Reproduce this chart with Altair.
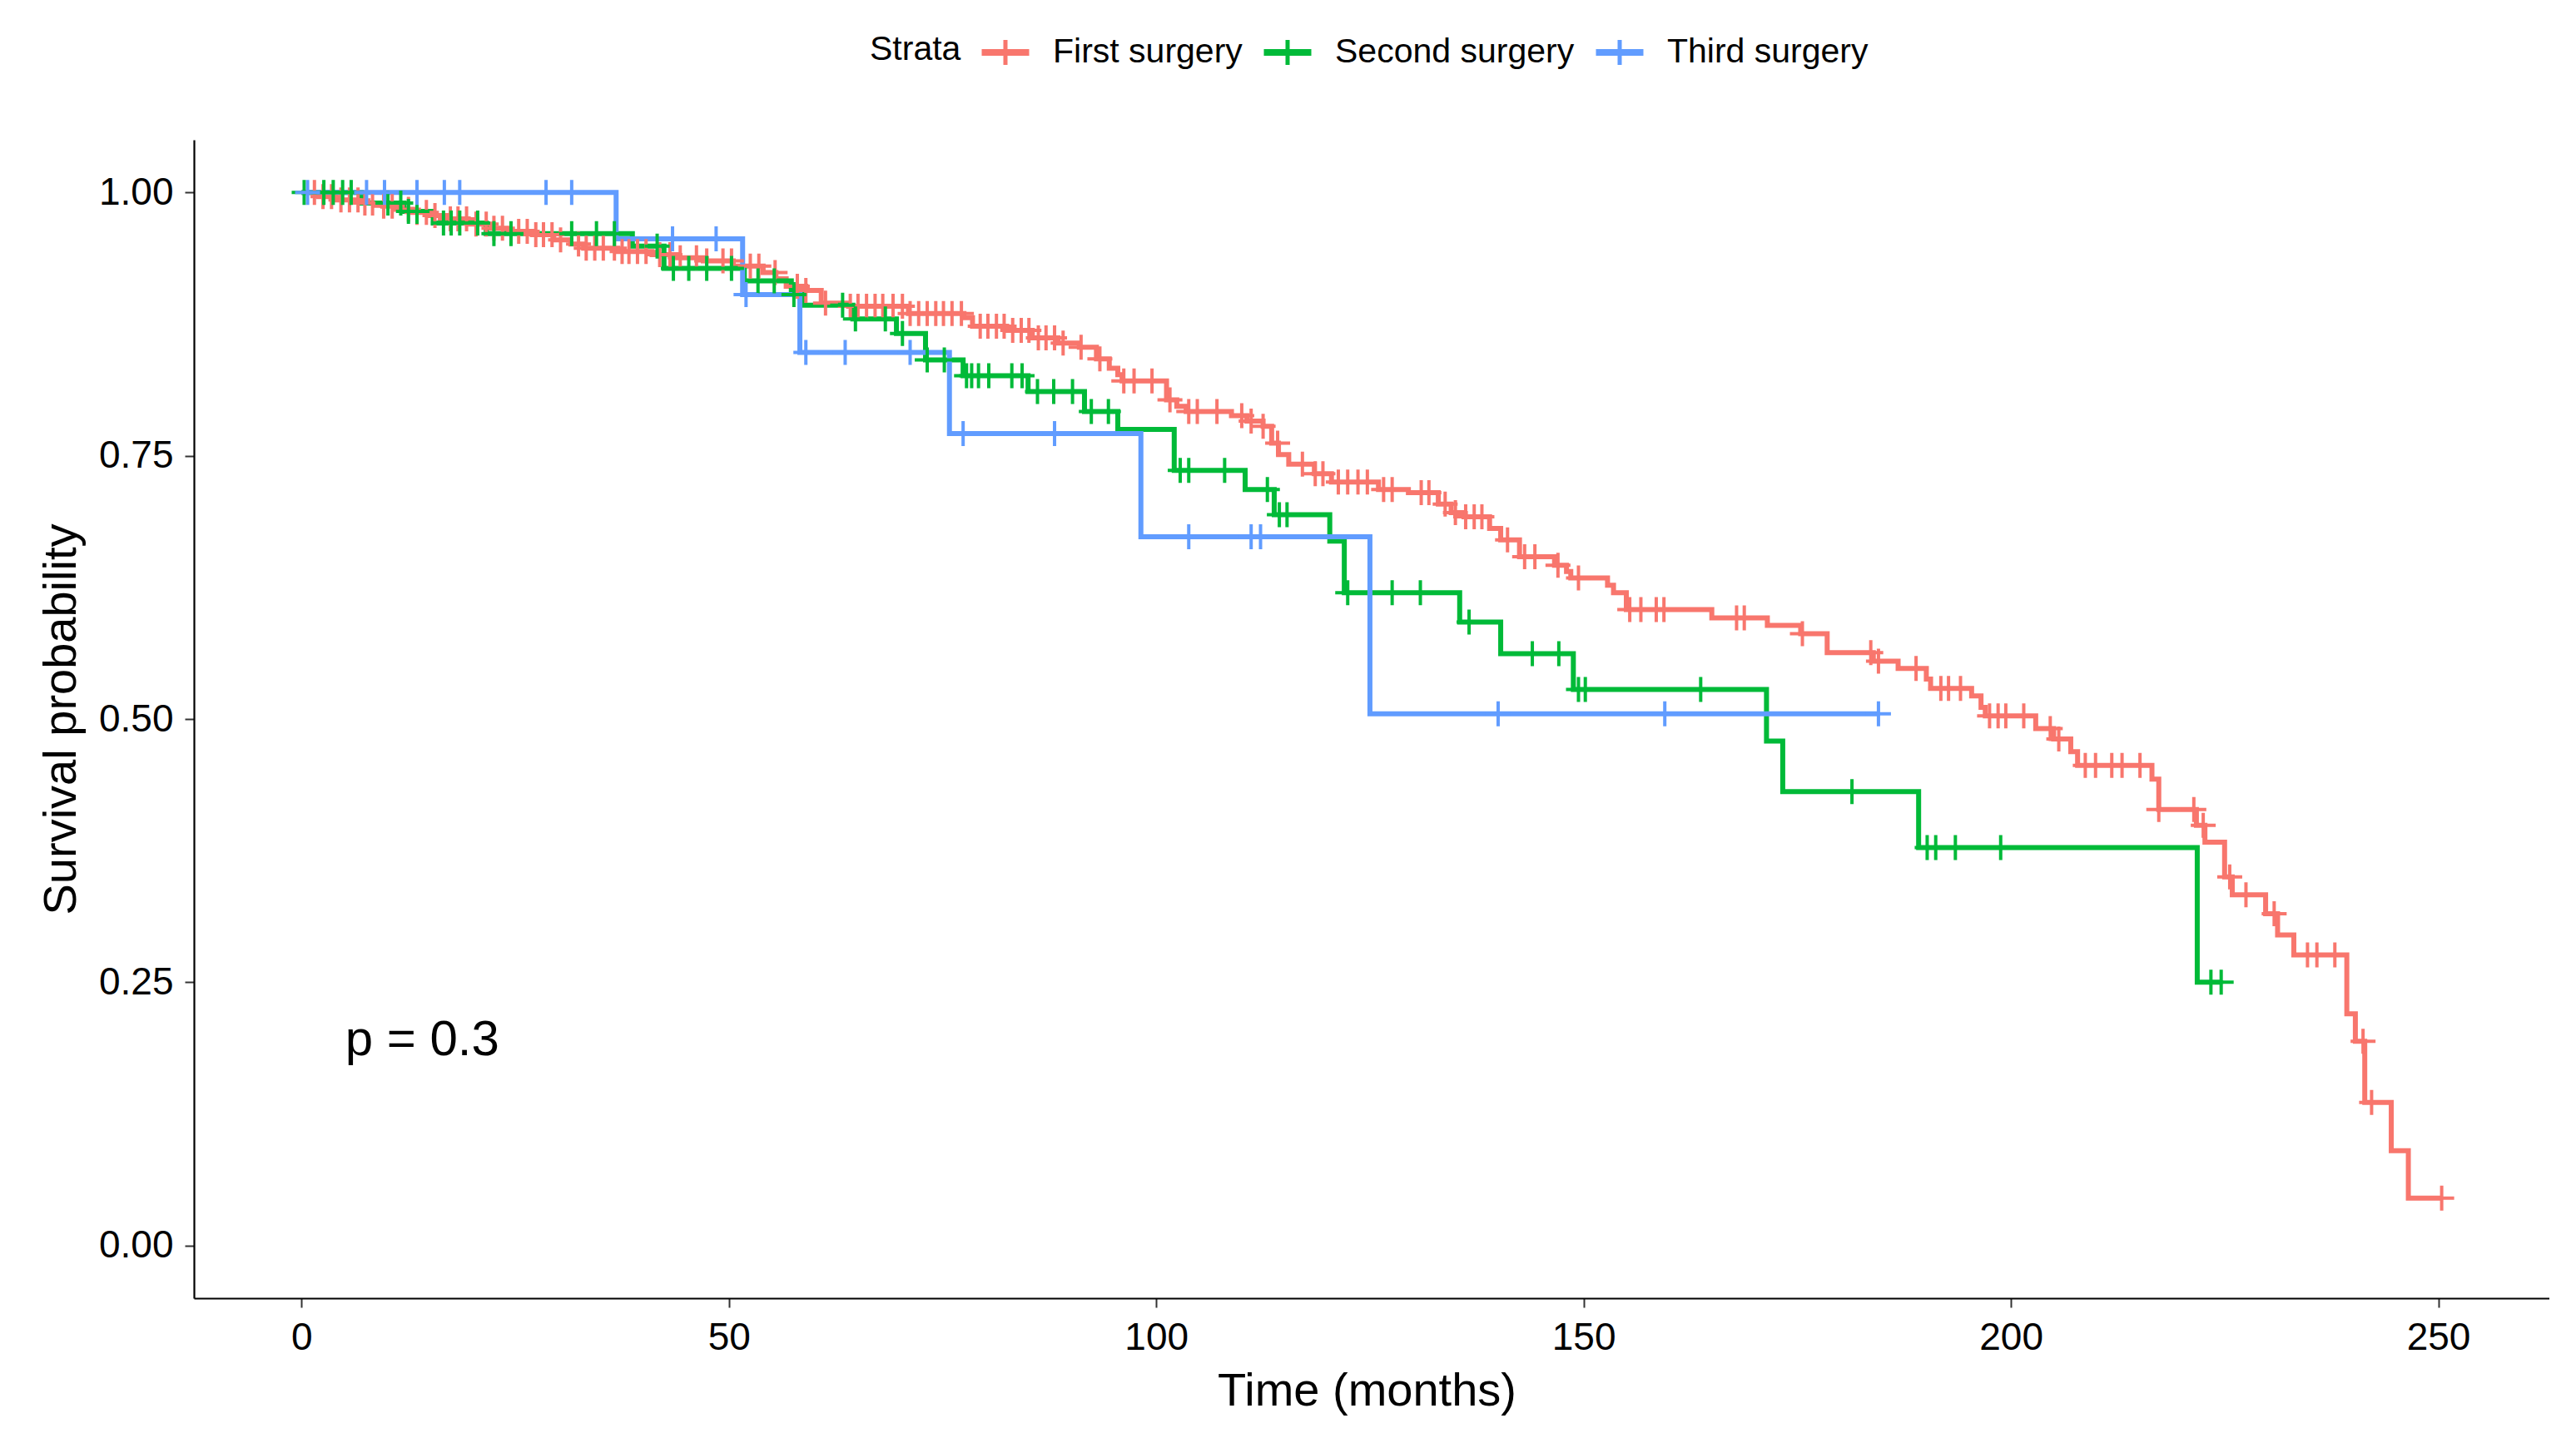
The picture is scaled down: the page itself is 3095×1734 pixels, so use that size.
import altair as alt
import numpy as np
import pandas as pd

FONT = "Liberation Sans, Arial, sans-serif"

strata = ["First surgery", "Second surgery", "Third surgery"]
colors = ["#F8766D", "#00BA38", "#619CFF"]

# ---- First surgery: step times / survival levels ----
red_t = [0, 2.0, 4.0, 7.0, 9.5, 11.0, 13.0, 15.0, 17.0, 19.5,
         22.0, 24.0, 27.0, 29.5, 31.5, 33.0, 37.0, 41.0, 44.0, 47.0,
         50.5, 54.0, 55.5, 56.7, 59.0, 60.8, 64.0, 71.0, 77.5, 78.5,
         82.5, 85.5, 88.5, 91.0, 93.0, 94.5, 95.5, 96.0, 101.2, 102.4,
         103.5, 108.8, 110.6, 112.5, 113.5, 114.3, 115.5, 118.5, 120.5, 126.0,
         129.5, 133.0, 134.5, 136.0, 139.0, 140.3, 142.5, 146.6, 148.0, 148.5,
         152.8, 153.5, 155.0, 165.0, 171.5, 175.4, 178.5, 183.9, 186.8, 190.1,
         190.6, 195.4, 196.5, 197.0, 202.9, 205.0, 207.0, 207.8, 216.5, 217.3,
         221.7, 222.7, 225.0, 225.9, 229.8, 231.2, 233.1, 239.3, 240.3, 241.4,
         244.5, 246.5]
red_s = [1.000, 0.996, 0.993, 0.990, 0.987, 0.984, 0.981, 0.978, 0.975, 0.970,
         0.966, 0.963, 0.960, 0.955, 0.951, 0.947, 0.944, 0.941, 0.938, 0.935,
         0.930, 0.924, 0.918, 0.911, 0.907, 0.895, 0.892, 0.885, 0.881, 0.873,
         0.869, 0.862, 0.857, 0.853, 0.842, 0.833, 0.827, 0.821, 0.803, 0.797,
         0.792, 0.788, 0.783, 0.778, 0.762, 0.751, 0.742, 0.733, 0.725, 0.718,
         0.715, 0.704, 0.696, 0.692, 0.681, 0.670, 0.654, 0.646, 0.640, 0.634,
         0.627, 0.620, 0.604, 0.596, 0.589, 0.581, 0.563, 0.555, 0.548, 0.538,
         0.529, 0.522, 0.511, 0.503, 0.491, 0.481, 0.469, 0.456, 0.443, 0.414,
         0.399, 0.383, 0.350, 0.333, 0.315, 0.295, 0.276, 0.220, 0.194, 0.136,
         0.090, 0.045]
red_end = 250.4
red_cens = [1.5, 2.5, 3.5, 4.6, 5.6, 6.6, 7.4, 8.3, 9.6, 10.6, 12.5, 13.5, 14.6, 15.6,
            17.4, 18.3, 19.3, 20.4, 21.6, 22.5, 23.5, 25.4, 26.4, 27.4, 28.3, 29.3,
            30.3, 32.4, 33.3, 34.3, 35.3, 36.6, 37.5, 38.3, 39.3, 40.3, 41.9, 43.1,
            44.3, 46.2, 47.4, 49.3, 50.3, 52.5, 53.5, 55.4, 58.0, 59.0, 61.3, 64.2,
            65.1, 66.1, 67.1, 68.0, 69.2, 70.3, 71.2, 72.2, 73.2, 74.2, 75.1, 76.1,
            77.2, 79.4, 80.3, 81.3, 82.2, 83.2, 84.2, 85.1, 86.2, 87.1, 88.1, 89.1,
            91.2, 93.4, 96.2, 97.4, 99.5, 101.6, 103.8, 104.8, 107.1, 110.0, 111.1,
            112.5, 114.2, 117.1, 118.6, 119.5, 121.3, 122.4, 123.6, 124.7, 126.6,
            127.6, 131.0, 131.9, 133.8, 135.0, 136.2, 137.2, 138.1, 141.1, 143.1,
            144.3, 147.0, 149.4, 155.4, 156.7, 158.5, 159.4, 167.9, 168.8, 175.6,
            183.6, 184.5, 188.9, 191.8, 192.7, 194.1, 197.5, 198.5, 199.4, 201.5,
            204.6, 205.6, 208.7, 209.9, 211.8, 213.0, 215.1, 217.3, 221.4, 222.5,
            225.6, 227.5, 230.8, 234.7, 235.8, 237.9, 241.2, 242.2, 250.4]

# ---- Second surgery ----
green_t = [0, 7.0, 12.0, 15.4, 21.6, 38.7, 42.4, 51.8, 57.3, 58.7,
           64.5, 69.6, 73.0, 77.4, 85.0, 91.6, 95.5, 102.1, 110.4, 113.8,
           120.3, 122.0, 135.5, 140.3, 148.8, 171.4, 173.3, 189.2, 221.8]
green_s = [1.000, 0.990, 0.982, 0.971, 0.961, 0.949, 0.928, 0.916, 0.903, 0.893,
           0.880, 0.866, 0.841, 0.826, 0.811, 0.792, 0.775, 0.736, 0.718, 0.694,
           0.669, 0.620, 0.592, 0.562, 0.528, 0.479, 0.431, 0.378, 0.250]
green_end = 224.6
green_cens = [0.3, 2.6, 3.7, 4.8, 5.8, 10.1, 11.6, 12.5, 13.5, 16.6, 17.5, 18.5, 20.6,
              22.5, 24.5, 31.6, 34.5, 36.6, 41.6, 43.5, 45.3, 47.4, 50.3, 53.4, 55.3,
              57.6, 63.3, 64.8, 68.3, 70.3, 73.2, 75.2, 77.8, 78.4, 79.2, 80.4, 83.1,
              84.3, 86.1, 88.0, 90.2, 92.4, 94.4, 102.8, 103.8, 108.0, 113.0, 114.4,
              115.3, 122.4, 127.6, 130.9, 136.6, 144.0, 147.1, 149.4, 150.2, 163.7,
              181.4, 190.2, 191.2, 193.5, 198.8, 223.4, 224.6]

# ---- Third surgery ----
blue_t = [0, 36.8, 51.6, 58.3, 75.8, 98.2, 125.0]
blue_s = [1.000, 0.956, 0.903, 0.848, 0.771, 0.673, 0.505]
blue_end = 184.5
blue_cens = [0.7, 7.6, 9.7, 13.5, 16.7, 18.5, 28.6, 31.6, 43.4, 48.5, 52.0, 59.0,
             63.6, 71.2, 77.4, 88.1, 103.8, 111.1, 112.2, 140.0, 159.5, 184.5]

p_label = "p = 0.3"
p_time, p_surv = 5.1, 0.181

x_ticks = [0, 50, 100, 150, 200, 250]
y_ticks = [0.0, 0.25, 0.5, 0.75, 1.0]

series = [
    (strata[0], red_t, red_s, red_end, red_cens),
    (strata[1], green_t, green_s, green_end, green_cens),
    (strata[2], blue_t, blue_s, blue_end, blue_cens),
]

line_rows, cens_rows = [], []
for name, ts, ss, end, cts in series:
    assert len(ts) == len(ss)
    for i, (t, s) in enumerate(zip(ts, ss)):
        line_rows.append({"strata": name, "time": t, "surv": s, "ord": i})
    line_rows.append({"strata": name, "time": end, "surv": ss[-1], "ord": len(ts)})
    idx = np.searchsorted(np.array(ts), np.array(cts), side="right") - 1
    for t, k in zip(cts, idx):
        cens_rows.append({"strata": name, "time": t, "surv": ss[k]})

line_df = pd.DataFrame(line_rows)
cens_df = pd.DataFrame(cens_rows)
p_df = pd.DataFrame({"time": [p_time], "surv": [p_surv], "label": [p_label]})

W, H = 2830, 1392

x_enc = alt.X(
    "time:Q",
    scale=alt.Scale(domain=[-12.6, 263.0], nice=False, zero=False),
    axis=alt.Axis(values=x_ticks, title="Time (months)", labelFlush=False,
                  titleX=1409, titleY=128, titleBaseline="alphabetic",
                  titleAlign="center"),
)
y_enc = alt.Y(
    "surv:Q",
    scale=alt.Scale(domain=[-0.05, 1.05], nice=False, zero=False),
    axis=alt.Axis(values=y_ticks, format=".2f", title="Survival probability",
                  labelFlush=False, titleX=-143, titleY=H / 2, titleAngle=270,
                  titleBaseline="alphabetic", titleAlign="center"),
)
color_enc = alt.Color(
    "strata:N",
    scale=alt.Scale(domain=strata, range=colors),
    legend=alt.Legend(
        title="Strata", orient="none", legendX=812, legendY=-136,
        direction="horizontal", titleOrient="left", titleAnchor="middle",
        titleBaseline="middle", titlePadding=22,
        titleFontSize=41, titleFont=FONT, titleFontWeight="normal", titleColor="black",
        labelFontSize=41, labelFont=FONT, labelColor="black", labelOffset=26,
        labelLimit=0, columnPadding=15, padding=0,
        symbolType="M-1,-0.053H1M-1,0.053H1M0,-0.526V0.526",
        symbolSize=3249, symbolStrokeWidth=5,
    ),
)

lines = alt.Chart(line_df).mark_line(
    interpolate="step-after", strokeWidth=6, strokeCap="butt", strokeJoin="miter"
).encode(x=x_enc, y=y_enc, color=color_enc, order="ord:Q")

points = alt.Chart(cens_df).mark_point(
    shape="M-1,0L1,0M0,-1L0,1", size=900, filled=False, strokeWidth=4, opacity=1
).encode(x=x_enc, y=y_enc, color=color_enc)

ptext = alt.Chart(p_df).mark_text(
    align="left", baseline="alphabetic", fontSize=60, font=FONT, color="black"
).encode(x=x_enc, y=y_enc, text="label:N")

chart = alt.layer(lines, points, ptext).properties(
    width=W, height=H,
    padding={"left": 225, "top": 160, "right": 0, "bottom": 166},
    autosize=alt.AutoSizeParams(type="none"),
).configure_view(stroke=None).configure_axis(
    grid=False, domainColor="black", domainWidth=2.2,
    tickColor="#333333", tickWidth=2, tickSize=11,
    labelFontSize=46, labelFont=FONT, labelColor="black", labelPadding=14,
    titleFontSize=56, titleFont=FONT, titleColor="black", titleFontWeight="normal",
)

chart.save("out.html", embed_options={"renderer": "svg", "actions": False})
